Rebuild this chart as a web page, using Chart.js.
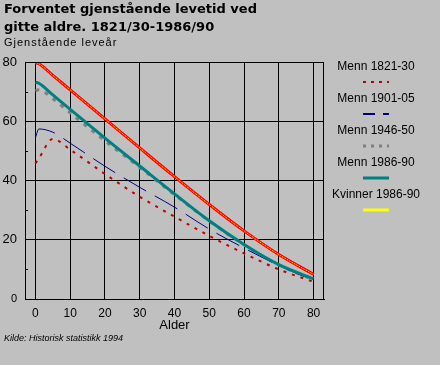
<!DOCTYPE html>
<html>
<head>
<meta charset="utf-8">
<script src="https://cdn.jsdelivr.net/npm/chart.js@4.4.0/dist/chart.umd.min.js"></script>
<style>
  html, body { margin: 0; padding: 0; background: #c0c0c0; }
  canvas { display: block; }
</style>
</head>
<body>
<canvas id="chart" width="440" height="365"></canvas>
<script>
// --- Données ---
const ages = [0, 1, 5, 10, 20, 30, 40, 50, 60, 70, 80];
const menn1821 = [45.8, 47.5, 54.0, 50.4, 42.2, 34.5, 27.8, 21.3, 15.4, 10.0, 5.8];
const menn1901 = [54.5, 57.4, 56.3, 52.6, 44.8, 37.7, 31.0, 23.6, 17.2, 11.3, 6.2];
const menn1946 = [70.3, 70.6, 67.6, 62.8, 53.4, 44.4, 35.2, 26.3, 18.3, 11.5, 6.5];
const menn1986 = [73.2, 72.8, 68.9, 64.0, 54.3, 44.9, 35.5, 26.4, 18.4, 11.6, 6.8];
const kvinner1986 = [79.8, 79.4, 75.5, 70.6, 60.8, 51.0, 41.3, 31.9, 23.0, 15.0, 8.3];

const seriesNames = ['Menn 1821-30', 'Menn 1901-05', 'Menn 1946-50', 'Menn 1986-90', 'Kvinner 1986-90'];
const xTicks = [0, 10, 20, 30, 40, 50, 60, 70, 80];
const yTicks = [0, 10, 20, 30, 40, 50, 60, 70, 80];
const yLabelled = [0, 20, 40, 60, 80];

const titleLines = ['Forventet gjenstående levetid ved', 'gitte aldre. 1821/30-1986/90'];
const yAxisTitle = 'Gjenstående leveår';
const xAxisTitle = 'Alder';
const sourceText = 'Kilde: Historisk statistikk 1994';

const toPoints = (vals) => vals.map((v, i) => ({ x: ages[i], y: v }));

const FONT = '"Liberation Sans", Arial, sans-serif';

// liseré jaune par-dessus la courbe rouge des femmes
const ditherPlugin = {
  id: 'dither',
  afterDatasetsDraw(chart) {
    chart.data.datasets.forEach((ds, i) => {
      if (!ds.innerColor) return;
      const line = chart.getDatasetMeta(i).dataset;
      const c = chart.ctx;
      const a = chart.chartArea;
      c.save();
      c.beginPath();
      c.rect(a.left, a.top, a.right - a.left, a.bottom - a.top);
      c.clip();
      c.strokeStyle = ds.innerColor;
      c.lineWidth = 1;
      c.setLineDash([1, 1]);
      c.beginPath();
      line.path(c);
      c.stroke();
      c.restore();
    });
  }
};

// Textes, légende, cadre
const decorPlugin = {
  id: 'decor',
  afterDraw(chart) {
    const c = chart.ctx;
    const area = chart.chartArea;
    const xs = chart.scales.x;
    const ys = chart.scales.y;
    c.save();

    // cadre
    c.strokeStyle = '#000';
    c.lineWidth = 1;
    c.strokeRect(area.left + 0.5, area.top + 0.5, area.right - area.left - 1, area.bottom - area.top);

    // petites graduations
    yTicks.filter(v => !yLabelled.includes(v)).forEach(v => {
      const y = Math.round(ys.getPixelForValue(v)) + 0.5;
      c.beginPath();
      c.moveTo(area.left, y);
      c.lineTo(area.left + 3, y);
      c.stroke();
    });

    // titre
    c.fillStyle = '#000';
    c.textAlign = 'left';
    c.textBaseline = 'alphabetic';
    c.font = 'bold 13px "DejaVu Sans", Verdana, sans-serif';
    c.fillText(titleLines[0], 4, 13);
    c.fillText(titleLines[1], 4, 31);

    c.font = '11px ' + FONT;
    c.letterSpacing = '1px';
    c.fillText(yAxisTitle, 4, 46);
    c.letterSpacing = '0px';

    // titre axe x
    c.font = '13px ' + FONT;
    c.textAlign = 'center';
    c.textBaseline = 'middle';
    c.fillText(xAxisTitle, xs.getPixelForValue(40), 325);

    // source
    c.font = 'italic 9px ' + FONT;
    c.textAlign = 'left';
    c.textBaseline = 'alphabetic';
    c.fillText(sourceText, 4, 341);

    // légende
    chart.data.datasets.forEach((ds, i) => {
      const cy = 67 + i * 32;
      c.font = '12px ' + FONT;
      c.textAlign = 'center';
      c.textBaseline = 'middle';
      c.fillStyle = '#000';
      c.fillText(ds.label, 376, cy);
      c.strokeStyle = ds.legendColor || ds.borderColor;
      c.lineWidth = ds.legendWidth || ds.borderWidth;
      c.setLineDash(ds.legendDash || ds.borderDash || []);
      c.beginPath();
      c.moveTo(363, cy + 15);
      c.lineTo(389, cy + 15);
      c.stroke();
      c.setLineDash([]);
    });

    c.restore();
  }
};

new Chart(document.getElementById('chart'), {
  type: 'line',
  data: {
    datasets: [
      {
        label: seriesNames[0],
        data: toPoints(menn1821),
        borderColor: '#c00000',
        borderWidth: 2,
        borderDash: [3, 6],
        legendDash: [3, 5],
        order: 1
      },
      {
        label: seriesNames[1],
        data: toPoints(menn1901),
        borderColor: '#000080',
        borderWidth: 1,
        borderDash: [26, 10],
        legendWidth: 2,
        legendDash: [12, 8],
        order: 1
      },
      {
        label: seriesNames[2],
        data: toPoints(menn1946),
        borderColor: '#808080',
        borderWidth: 3,
        borderDash: [4, 6],
        legendDash: [3, 5],
        order: 2
      },
      {
        label: seriesNames[3],
        data: toPoints(menn1986),
        borderColor: '#008080',
        borderWidth: 3,
        legendWidth: 3,
        order: 0
      },
      {
        label: seriesNames[4],
        data: toPoints(kvinner1986),
        borderColor: '#ff0000',
        borderWidth: 3,
        innerColor: '#ffff00',
        legendColor: '#ffff00',
        legendWidth: 3,
        order: 0
      }
    ]
  },
  options: {
    responsive: false,
    animation: false,
    events: [],
    layout: { padding: { left: 0, top: 62, right: 116, bottom: 0 } },
    elements: {
      point: { radius: 0 },
      line: { cubicInterpolationMode: 'monotone', fill: false }
    },
    plugins: {
      legend: { display: false },
      tooltip: { enabled: false },
      title: { display: false }
    },
    scales: {
      x: {
        type: 'linear',
        min: -3,
        max: 83,
        afterBuildTicks: (scale) => { scale.ticks = xTicks.map(v => ({ value: v })); },
        afterFit: (scale) => { scale.height = 66; },
        grid: { color: '#000', lineWidth: 1, drawTicks: false },
        border: { color: '#000', width: 1 },
        ticks: {
          color: '#000',
          padding: 7,
          maxRotation: 0,
          font: { family: FONT, size: 12 }
        }
      },
      y: {
        min: 0,
        max: 80,
        afterBuildTicks: (scale) => { scale.ticks = yTicks.map(v => ({ value: v })); },
        afterFit: (scale) => { scale.width = 25; },
        grid: {
          color: (c) => (yLabelled.includes(c.tick.value) ? '#000' : 'rgba(0,0,0,0)'),
          lineWidth: 1,
          drawTicks: false
        },
        border: { color: '#000', width: 1 },
        ticks: {
          color: '#000',
          padding: 8,
          callback: (v) => (yLabelled.includes(v) ? v : ''),
          font: (c) => ({ family: FONT, size: c.tick && c.tick.value === 0 ? 11 : 13 })
        }
      }
    }
  },
  plugins: [ditherPlugin, decorPlugin]
});
</script>
</body>
</html>
